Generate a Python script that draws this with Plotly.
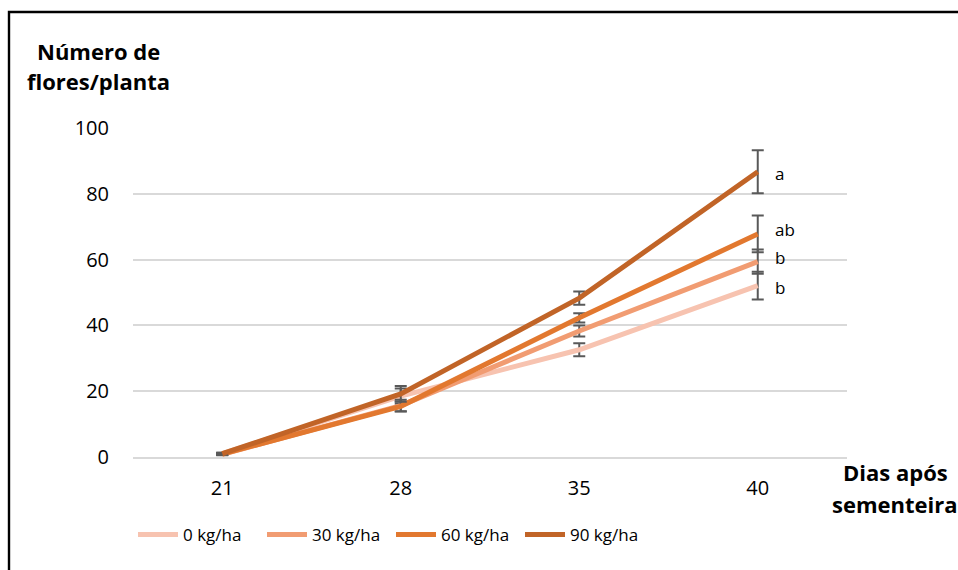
import plotly.graph_objects as go

days = ["21", "28", "35", "40"]
series_names = ["0 kg/ha", "30 kg/ha", "60 kg/ha", "90 kg/ha"]
values = {
    "0 kg/ha": [1.0, 18.5, 32.6, 52.1],
    "30 kg/ha": [0.8, 15.6, 38.3, 59.4],
    "60 kg/ha": [0.9, 15.4, 42.3, 67.8],
    "90 kg/ha": [1.0, 19.2, 48.3, 86.7],
}
errors = {
    "0 kg/ha": [0.3, 2.3, 2.0, 4.2],
    "30 kg/ha": [0.3, 1.8, 1.7, 3.7],
    "60 kg/ha": [0.3, 1.5, 1.4, 5.6],
    "90 kg/ha": [0.3, 2.4, 2.0, 6.5],
}
colors = ["#F7C3B0", "#F19C72", "#E2782F", "#C16427"]
letters = ["b", "b", "ab", "a"]
letter_y = [51.4, 60.5, 69.3, 86.3]

FONT = "'Open Sans', sans-serif"

fig = go.Figure()
for name, c in zip(series_names, colors):
    fig.add_trace(go.Scatter(
        x=days, y=values[name], name=name, mode="lines",
        line=dict(color=c, width=5),
        error_y=dict(type="data", array=errors[name], visible=True,
                     color="#595959", thickness=2, width=6),
        cliponaxis=False,
    ))

last_idx = len(days) - 1
for t, yv in zip(letters, letter_y):
    fig.add_annotation(x=last_idx, y=yv, text=t, showarrow=False, xanchor="left",
                       xshift=15, font=dict(size=17, color="#000000", family=FONT))

def paper_label(text, px, py, size=22):
    fig.add_annotation(xref="paper", yref="paper", x=(px - 133) / 714, y=(457 - py) / 329,
                       text=text, showarrow=False, xanchor="center", yanchor="middle",
                       font=dict(size=size, color="#000", family=FONT))

paper_label("<b>Número de</b>", 98, 51)
paper_label("<b>flores/planta</b>", 98, 81)
paper_label("<b>Dias após</b>", 895, 472)
paper_label("<b>sementeira</b>", 895, 504)

fig.add_shape(type="rect", xref="paper", yref="paper",
              x0=(9 - 133) / 714, x1=(962 - 133) / 714,
              y0=(457 - 575) / 329, y1=(457 - 12) / 329,
              line=dict(color="#000000", width=2.4), fillcolor="rgba(0,0,0,0)")

fig.update_layout(
    width=958, height=570,
    margin=dict(l=133, r=111, t=128, b=113),
    paper_bgcolor="white", plot_bgcolor="white",
    font=dict(family=FONT, size=20, color="#000"),
    showlegend=True,
    legend=dict(orientation="h", x=(133 - 133) / 714, y=(457 - 535) / 329,
                xanchor="left", yanchor="middle", font=dict(size=17),
                entrywidth=74, entrywidthmode="pixels", itemwidth=40),
    xaxis=dict(type="category", range=[-0.5, 3.5], showgrid=False, showline=True,
               linecolor="#D9D9D9", linewidth=1.5, ticks="",
               ticklabelstandoff=12, tickfont=dict(size=20)),
    yaxis=dict(range=[0, 100], dtick=20, showgrid=True, gridcolor="#D9D9D9",
               gridwidth=1.5, zeroline=False, showline=False, ticks="",
               ticklabelstandoff=23, tickfont=dict(size=20)),
)

fig.write_html("out.html", config={"displayModeBar": False},
               post_script="document.body.style.margin='0px';")
